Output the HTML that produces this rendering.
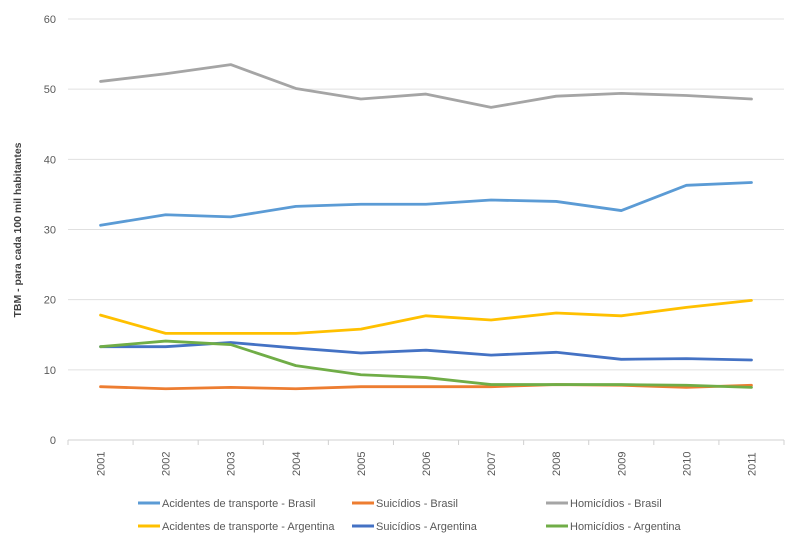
<!DOCTYPE html>
<html><head><meta charset="utf-8"><style>
body{margin:0;background:#fff;font-family:"Liberation Sans",sans-serif}
svg text{font-family:"Liberation Sans",sans-serif;fill:#595959;font-size:11px}
</style></head><body>
<svg width="800" height="554">
<g id="grid"></g><g id="axes"></g><g id="lines"></g><g id="legend"></g>
<text transform="translate(21,230) rotate(-90)" text-anchor="middle" style="font-weight:bold;font-size:10.5px;fill:#404040">TBM - para cada 100 mil habitantes</text>
</svg>
<script>
const years=["2001","2002","2003","2004","2005","2006","2007","2008","2009","2010","2011"];
const yTicks=[0,10,20,30,40,50,60];
const acidBR=[30.6,32.1,31.8,33.3,33.6,33.6,34.2,34.0,32.7,36.3,36.7];
const suicBR=[7.6,7.3,7.5,7.3,7.6,7.6,7.6,7.9,7.8,7.5,7.8];
const homBR=[51.1,52.2,53.5,50.1,48.6,49.3,47.4,49.0,49.4,49.1,48.6];
const acidAR=[17.8,15.2,15.2,15.2,15.8,17.7,17.1,18.1,17.7,18.9,19.9];
const suicAR=[13.3,13.3,13.9,13.1,12.4,12.8,12.1,12.5,11.5,11.6,11.4];
const homAR=[13.3,14.1,13.6,10.6,9.3,8.9,7.9,7.9,7.9,7.8,7.5];
const seriesNames=["Acidentes de transporte - Brasil","Suicídios - Brasil","Homicídios - Brasil","Acidentes de transporte - Argentina","Suicídios - Argentina","Homicídios - Argentina"];
const series=[acidBR,suicBR,homBR,acidAR,suicAR,homAR];
const colors=["#5b9bd5","#ed7d31","#a5a5a5","#ffc000","#4472c4","#70ad47"];
const NS="http://www.w3.org/2000/svg";
const L=68,R=784,T=19,B=440,yMax=60;
const step=(R-L)/years.length;
const xS=i=>L+step*(i+0.5);
const yS=v=>B-(v/yMax)*(B-T);
function mk(tag,attrs,parent){const e=document.createElementNS(NS,tag);for(const k in attrs)e.setAttribute(k,attrs[k]);parent.appendChild(e);return e;}
const grid=document.getElementById('grid'),axes=document.getElementById('axes'),lines=document.getElementById('lines'),leg=document.getElementById('legend');
yTicks.forEach(v=>{
  if(v>0){const g=mk('line',{x1:L,x2:R,y1:yS(v),y2:yS(v),stroke:'#e0e0e0','stroke-width':1},grid);
  
  }
  const t=mk('text',{x:56,y:yS(v)+4,'text-anchor':'end'},axes);t.textContent=v;
  
  
});
const ax=mk('line',{x1:L,x2:R,y1:B,y2:B,stroke:'#d0d0d0','stroke-width':1},axes);


for(let i=0;i<=years.length;i++){const tk=mk('line',{x1:L+step*i,x2:L+step*i,y1:B,y2:B+5,stroke:'#d0d0d0'},axes);

}
years.forEach((y,i)=>{const t=mk('text',{transform:`translate(${xS(i)+4},${B+36}) rotate(-90)`,'text-anchor':'start'},axes);t.textContent=y;

});
series.forEach((s,k)=>{
  const p=mk('polyline',{points:s.map((v,i)=>xS(i)+','+yS(v)).join(' '),fill:'none',stroke:colors[k],'stroke-width':2.8,'stroke-linejoin':'round','stroke-linecap':'round'},lines);
  
  
});
const lx=[138,352,546],ly=[503,526];
seriesNames.forEach((n,k)=>{
  const x=lx[k%3],y=ly[Math.floor(k/3)];
  const g=mk('g',{},leg);
  
  
  mk('line',{x1:x,x2:x+22,y1:y,y2:y,stroke:colors[k],'stroke-width':3},g);
  const t=mk('text',{x:x+24,y:y+4},g);t.textContent=n;
});
</script>
</body></html>
